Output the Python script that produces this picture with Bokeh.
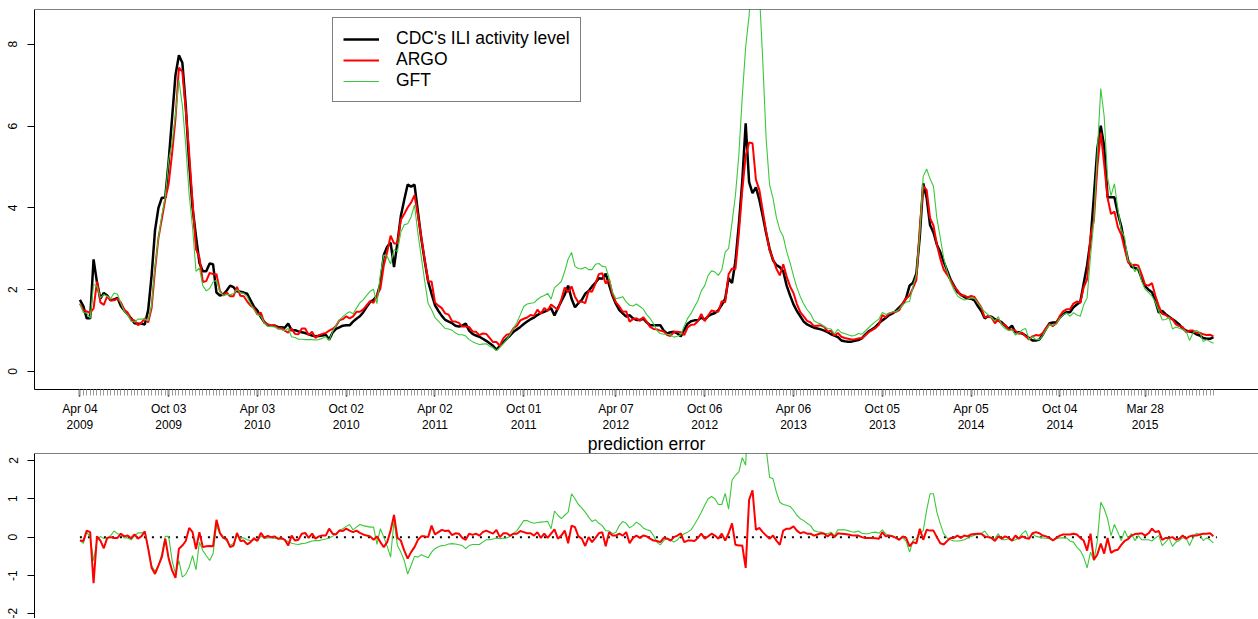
from bokeh.plotting import figure
from bokeh.layouts import column
from bokeh.models import FixedTicker, Span, Legend, LegendItem, Range1d, Title
from bokeh.embed import file_html
from bokeh.resources import INLINE

FONT = "Liberation Sans"

# week index 0 = 2009-04-04 (weekly data)
weeks = list(range(333))

cdc = [
    1.75, 1.60, 1.30, 1.30, 2.74, 2.18, 1.78, 1.92, 1.86, 1.74,
    1.76, 1.80, 1.60, 1.49, 1.40, 1.30, 1.18, 1.17, 1.17, 1.15,
    1.50, 2.35, 3.45, 4.00, 4.25, 4.25, 5.15, 6.20, 7.25, 7.73,
    7.55, 6.50, 5.10, 4.00, 3.30, 2.66, 2.45, 2.45, 2.64, 2.62,
    1.93, 1.86, 1.88, 1.98, 2.10, 2.06, 1.96, 1.95, 1.93, 1.90,
    1.74, 1.58, 1.49, 1.33, 1.21, 1.13, 1.12, 1.12, 1.09, 1.08,
    1.07, 1.17, 1.01, 1.01, 0.98, 0.96, 0.94, 0.91, 0.88, 0.86,
    0.87, 0.88, 0.90, 0.78, 0.95, 1.04, 1.08, 1.12, 1.13, 1.13,
    1.22, 1.29, 1.35, 1.45, 1.58, 1.70, 1.75, 1.85, 2.15, 2.85,
    3.05, 3.15, 2.55, 3.15, 3.80, 4.20, 4.57, 4.52, 4.57, 3.90,
    3.25, 2.70, 2.20, 1.90, 1.62, 1.48, 1.36, 1.26, 1.22, 1.18,
    1.12, 1.10, 1.12, 1.17, 1.00, 0.92, 0.88, 0.85, 0.80, 0.75,
    0.69, 0.63, 0.53, 0.63, 0.71, 0.80, 0.88, 0.97, 1.03, 1.09,
    1.16, 1.22, 1.28, 1.32, 1.38, 1.43, 1.46, 1.50, 1.55, 1.37,
    1.55, 1.72, 1.88, 2.10, 1.78, 1.57, 1.67, 1.75, 1.90, 1.97,
    2.08, 2.17, 2.28, 2.27, 2.39, 2.12, 1.85, 1.65, 1.50, 1.42,
    1.34, 1.38, 1.30, 1.26, 1.26, 1.29, 1.20, 1.13, 1.13, 1.13,
    1.13, 1.00, 0.93, 0.96, 0.97, 0.93, 0.86, 1.02, 1.17, 1.23,
    1.25, 1.25, 1.32, 1.27, 1.35, 1.40, 1.43, 1.50, 1.63, 1.78,
    2.28, 2.16, 2.70, 3.60, 4.65, 6.07, 4.63, 4.36, 4.50, 4.20,
    3.80, 3.38, 3.00, 2.72, 2.60, 2.55, 2.45, 2.10, 1.86, 1.64,
    1.48, 1.35, 1.22, 1.15, 1.11, 1.07, 1.05, 1.03, 1.00, 0.96,
    0.91, 0.88, 0.84, 0.76, 0.74, 0.73, 0.73, 0.75, 0.77, 0.81,
    0.90, 0.98, 1.03, 1.09, 1.18, 1.25, 1.31, 1.38, 1.42, 1.48,
    1.57, 1.65, 1.80, 2.10, 2.17, 2.40, 3.30, 4.60, 4.25, 3.58,
    3.40, 3.10, 2.92, 2.68, 2.47, 2.25, 2.10, 1.95, 1.88, 1.82,
    1.79, 1.78, 1.74, 1.60, 1.48, 1.30, 1.35, 1.34, 1.28, 1.25,
    1.20, 1.12, 1.04, 1.12, 0.96, 0.96, 0.93, 0.88, 0.82, 0.76,
    0.76, 0.78, 0.90, 1.05, 1.18, 1.20, 1.20, 1.32, 1.40, 1.45,
    1.45, 1.57, 1.64, 1.70, 2.15, 2.60, 3.20, 4.30, 5.45, 6.01,
    5.50, 4.26, 4.26, 4.26, 3.86, 3.55, 3.10, 2.72, 2.56, 2.53,
    2.50, 2.27, 2.08, 2.00, 1.94, 1.72, 1.44, 1.48, 1.40, 1.34,
    1.28, 1.22, 1.15, 1.05, 1.00, 0.98, 0.96, 0.91, 0.88, 0.82,
    0.80, 0.80, 0.84,
]

# prediction error = estimate - CDC
argo_err = [
    -0.09, -0.10, 0.17, 0.13, -1.20, 0.02, -0.09, -0.29, -0.02, 0.00,
    -0.02, -0.02, 0.09, 0.02, 0.04, -0.03, 0.07, -0.04, 0.02, 0.15,
    -0.30, -0.80, -0.96, -0.74, -0.52, -0.04, -0.56, -0.87, -1.06, -0.30,
    -0.22, -0.10, 0.24, 0.13, -0.31, 0.13, -0.26, -0.24, -0.23, -0.24,
    0.45, 0.11, -0.02, -0.05, -0.26, -0.22, 0.11, -0.10, -0.09, -0.19,
    -0.13, -0.03, -0.10, 0.11, -0.02, 0.03, 0.00, 0.02, -0.04, -0.02,
    -0.07, -0.22, 0.04, -0.09, -0.07, 0.09, 0.11, -0.02, 0.09, -0.04,
    0.02, 0.04, 0.04, 0.22, 0.09, 0.07, 0.17, 0.16, 0.22, 0.17,
    0.13, 0.17, 0.11, 0.07, 0.04, 0.02, -0.07, 0.02, -0.13, -0.26,
    -0.13, 0.17, 0.58, -0.02, -0.09, -0.35, -0.56, -0.39, -0.26, -0.07,
    0.02, 0.02, 0.00, 0.30, 0.07, 0.13, 0.19, 0.16, 0.17, 0.05,
    0.10, 0.09, -0.02, -0.07, 0.09, 0.06, 0.09, 0.04, 0.13, 0.17,
    0.13, 0.09, 0.19, 0.00, 0.10, 0.10, 0.04, 0.09, 0.09, 0.16,
    0.13, 0.10, 0.10, 0.04, 0.13, -0.02, 0.09, -0.02, 0.09, 0.20,
    -0.04, 0.04, 0.17, -0.16, 0.30, 0.26, 0.02, -0.04, -0.23, 0.00,
    -0.13, -0.02, 0.10, 0.13, -0.24, 0.13, 0.04, 0.04, 0.09, 0.04,
    0.13, -0.16, -0.02, 0.04, -0.02, 0.04, 0.02, -0.04, -0.09, -0.10,
    -0.13, -0.02, -0.04, -0.09, 0.00, 0.04, 0.10, -0.13, -0.09, -0.09,
    -0.10, -0.02, 0.09, -0.04, 0.02, 0.09, 0.04, -0.04, 0.09, -0.09,
    0.10, 0.36, -0.20, -0.22, -0.22, -0.80, 0.97, 1.22, 0.19, 0.24,
    0.13, 0.04, -0.04, 0.04, -0.09, -0.20, 0.17, 0.22, 0.22, 0.28,
    0.17, 0.10, 0.13, 0.09, 0.09, 0.04, 0.07, 0.10, 0.09, 0.02,
    0.09, 0.00, 0.10, 0.09, 0.08, 0.07, 0.05, 0.04, 0.04, 0.00,
    -0.02, -0.02, -0.02, -0.03, -0.04, 0.13, 0.02, 0.04, 0.02, -0.02,
    -0.07, 0.02, -0.02, -0.24, -0.13, -0.16, 0.22, -0.07, 0.19, 0.17,
    0.17, 0.00, -0.16, -0.19, -0.10, -0.02, -0.02, 0.04, -0.02, 0.04,
    0.02, 0.07, 0.08, 0.09, 0.09, 0.02, 0.00, -0.02, -0.10, 0.02,
    -0.04, 0.02, -0.02, -0.09, 0.04, -0.04, 0.02, -0.02, -0.04, 0.10,
    0.13, 0.10, 0.04, 0.02, -0.02, -0.09, -0.02, 0.04, 0.07, 0.07,
    0.07, 0.09, 0.07, -0.02, -0.09, -0.35, 0.09, -0.59, -0.45, -0.17,
    -0.43, -0.02, -0.41, -0.35, -0.33, -0.20, -0.10, -0.05, 0.04, 0.08,
    0.09, 0.10, 0.04, 0.10, 0.22, 0.13, 0.16, -0.07, -0.02, -0.02,
    0.00, -0.07, -0.04, 0.04, -0.04, 0.02, 0.04, 0.04, 0.07, 0.09,
    0.09, 0.10, 0.02,
]

gft_err = [
    -0.09, -0.16, 0.13, 0.00, -0.61, -0.09, 0.02, -0.04, -0.02, 0.04,
    0.16, 0.09, 0.07, -0.02, -0.02, -0.07, 0.03, 0.11, 0.11, 0.13,
    -0.26, -0.74, -0.89, -0.74, -0.43, 0.02, 0.02, -0.61, -0.96, -0.61,
    -1.04, -0.97, -0.78, -0.48, -0.85, -0.13, -0.35, -0.48, -0.61, -0.43,
    0.30, 0.09, -0.02, -0.10, -0.22, -0.16, 0.04, -0.02, -0.02, -0.07,
    -0.09, -0.07, -0.09, 0.02, -0.02, -0.02, -0.02, -0.03, -0.04, -0.06,
    -0.07, -0.12, -0.16, -0.18, -0.19, -0.17, -0.16, -0.13, -0.10, -0.09,
    -0.09, -0.07, -0.05, -0.02, 0.02, 0.09, 0.18, 0.22, 0.28, 0.33,
    0.19, 0.26, 0.33, 0.30, 0.28, 0.26, 0.26, -0.19, 0.22, 0.00,
    -0.24, -0.52, 0.43, -0.22, -0.39, -0.61, -0.96, -0.74, -0.50, -0.52,
    -0.46, -0.50, -0.54, -0.39, -0.30, -0.25, -0.22, -0.21, -0.18, -0.17,
    -0.18, -0.20, -0.22, -0.30, -0.22, -0.19, -0.19, -0.19, -0.13, -0.07,
    -0.07, -0.05, -0.02, -0.04, -0.03, -0.02, 0.02, 0.09, 0.17, 0.30,
    0.43, 0.43, 0.39, 0.36, 0.38, 0.39, 0.40, 0.41, 0.22, 0.68,
    0.57, 0.48, 0.57, 0.65, 1.13, 1.00, 0.85, 0.76, 0.65, 0.52,
    0.41, 0.45, 0.36, 0.30, 0.17, 0.16, 0.09, 0.13, 0.30, 0.41,
    0.36, 0.24, 0.30, 0.39, 0.33, 0.24, 0.19, 0.17, 0.04, -0.13,
    -0.20, -0.09, -0.02, -0.07, -0.13, -0.07, 0.04, 0.09, 0.13, 0.19,
    0.33, 0.48, 0.65, 0.83, 1.00, 1.06, 1.00, 0.85, 0.85, 1.14,
    0.73, 1.48, 1.61, 1.70, 2.07, 1.87, 4.07, 5.60, 5.80, 5.10,
    3.80, 2.30, 1.56, 1.52, 1.17, 0.91, 0.85, 0.83, 0.80, 0.70,
    0.57, 0.48, 0.43, 0.36, 0.30, 0.17, 0.14, 0.13, 0.10, 0.09,
    0.13, 0.04, 0.19, 0.19, 0.19, 0.17, 0.14, 0.13, 0.16, 0.10,
    0.09, 0.09, 0.12, 0.13, 0.10, 0.19, 0.09, 0.04, 0.04, -0.02,
    -0.04, -0.02, -0.10, -0.39, -0.09, -0.04, 0.09, 0.17, 0.70, 1.13,
    1.13, 0.65, 0.35, 0.09, -0.02, -0.07, -0.10, -0.10, -0.09, -0.07,
    -0.02, 0.02, 0.05, 0.07, 0.09, 0.16, 0.04, -0.02, -0.04, 0.09,
    -0.07, -0.07, -0.04, -0.10, -0.07, -0.02, 0.09, 0.17, -0.04, 0.09,
    0.02, 0.00, -0.02, -0.03, -0.04, -0.07, -0.04, -0.02, -0.02, -0.02,
    -0.10, -0.13, -0.26, -0.35, -0.52, -0.80, -0.39, -0.61, -0.09, 0.91,
    0.74, 0.48, 0.04, 0.33, 0.13, -0.09, 0.17, -0.02, 0.09, -0.09,
    0.04, -0.07, -0.07, -0.07, -0.10, -0.02, 0.04, -0.22, -0.13, -0.02,
    -0.24, -0.13, -0.09, -0.02, -0.02, -0.22, -0.02, 0.10, 0.07, -0.09,
    -0.02, -0.07, -0.15,
]

argo = [round(c + e, 3) for c, e in zip(cdc, argo_err)]
gft = [round(c + e, 3) for c, e in zip(cdc, gft_err)]

tick_weeks = [0, 26, 52, 78, 104, 130, 157, 183, 209, 235, 261, 287, 312]
tick_labels = ["Apr 04\n2009", "Oct 03\n2009", "Apr 03\n2010", "Oct 02\n2010",
               "Apr 02\n2011", "Oct 01\n2011", "Apr 07\n2012", "Oct 06\n2012",
               "Apr 06\n2013", "Oct 05\n2013", "Apr 05\n2014", "Oct 04\n2014",
               "Mar 28\n2015"]
top_yticks = [0, 2, 4, 6, 8]
err_yticks = [-2, -1, 0, 1, 2]

GREEN = "#3BC83B"
X0, X1 = -13.3, 345.2
TOP_Y = (-0.44, 8.85)
ERR_Y = (-2.119, 2.178)


def style_left_axis(ax, ticks):
    ax.ticker = FixedTicker(ticks=ticks)
    ax.major_label_overrides = {t: str(t) for t in ticks}
    ax.major_label_orientation = "vertical"
    ax.major_label_text_font = FONT
    ax.major_label_text_font_size = "12px"
    ax.major_label_text_color = "black"
    ax.major_label_standoff = 10
    ax.major_tick_out = 7
    ax.major_tick_in = 0
    ax.major_tick_line_color = "black"
    ax.minor_tick_line_color = None
    ax.axis_line_color = "black"
    ax.axis_line_width = 1


# ---------------- top panel ----------------
p1 = figure(width=1258, height=453, x_range=Range1d(X0, X1), y_range=Range1d(*TOP_Y),
            output_backend="svg", toolbar_location=None, title=None,
            min_border_left=34, min_border_right=0, min_border_top=9, min_border_bottom=64)
p1.outline_line_color = None
p1.xgrid.visible = False
p1.ygrid.visible = False

xa = p1.xaxis[0]
xa.ticker = FixedTicker(ticks=tick_weeks, minor_ticks=weeks)
xa.major_label_overrides = {w: lab for w, lab in zip(tick_weeks, tick_labels)}
xa.major_label_text_font = FONT
xa.major_label_text_font_size = "12px"
xa.major_label_text_color = "black"
xa.major_label_standoff = 5
xa.major_tick_out = 7
xa.major_tick_in = 0
xa.major_tick_line_width = 1.5
xa.major_tick_line_color = "black"
xa.minor_tick_out = 6
xa.minor_tick_in = 0
xa.minor_tick_line_color = "#9a9a9a"
xa.minor_tick_line_width = 1
xa.axis_line_color = "black"
xa.axis_line_width = 1
style_left_axis(p1.yaxis[0], top_yticks)

p1.add_layout(Span(location=TOP_Y[1], dimension="width", line_color="black", line_width=1))

r_cdc = p1.line(weeks, cdc, line_color="black", line_width=2.5)
r_argo = p1.line(weeks, argo, line_color="red", line_width=2)
r_gft = p1.line(weeks, gft, line_color=GREEN, line_width=1.1)

legend = Legend(items=[LegendItem(label="CDC's ILI activity level", renderers=[r_cdc]),
                       LegendItem(label="ARGO", renderers=[r_argo]),
                       LegendItem(label="GFT", renderers=[r_gft])],
                location=(298, 287))
legend.border_line_color = "black"
legend.border_line_width = 1
legend.background_fill_color = "white"
legend.background_fill_alpha = 1
legend.padding = 10
legend.spacing = 0
legend.margin = 0
legend.label_height = 20
legend.glyph_height = 20
legend.glyph_width = 36
legend.label_standoff = 17
legend.label_text_font = FONT
legend.label_text_font_size = "17.5px"
legend.label_text_color = "black"
p1.add_layout(legend)

# title of the lower panel, placed under the upper panel's date axis
p1.add_layout(Title(text="prediction error", align="center", vertical_align="top",
                    text_font=FONT, text_font_size="17.5px", text_font_style="normal",
                    text_color="black", standoff=-4), "below")

# ---------------- error panel ----------------
p2 = figure(width=1258, height=165, x_range=Range1d(X0, X1), y_range=Range1d(*ERR_Y),
            output_backend="svg", toolbar_location=None, x_axis_location=None, title=None,
            min_border_left=34, min_border_right=0, min_border_top=0, min_border_bottom=0)
p2.outline_line_color = None
p2.xgrid.visible = False
p2.ygrid.visible = False
style_left_axis(p2.yaxis[0], err_yticks)
p2.add_layout(Span(location=ERR_Y[1], dimension="width", line_color="black", line_width=1))

p2.line([weeks[0], weeks[-1] + 1], [0, 0], line_color="black", line_width=2, line_dash="2 6")
p2.line(weeks, gft_err, line_color=GREEN, line_width=1.1)
p2.line(weeks, argo_err, line_color="red", line_width=2)

layout = column(p1, p2, spacing=0)
open("out.html", "w").write(file_html(layout, INLINE))
